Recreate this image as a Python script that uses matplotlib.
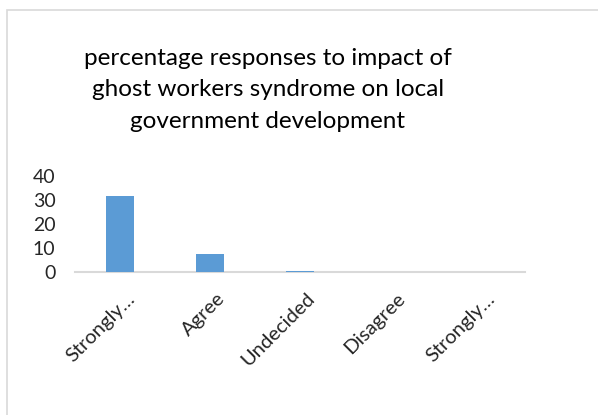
import matplotlib.pyplot as plt
from matplotlib.patches import Rectangle
from matplotlib import transforms

categories = ["Strongly…", "Agree", "Undecided", "Disagree", "Strongly…"]
values = [31.7, 7.5, 0.6, 0, 0]
y_ticks = [0, 10, 20, 30, 40]

title = "percentage responses to impact of\nghost workers syndrome on local\ngovernment development"

plt.rcParams["font.family"] = ["Lato", "DejaVu Sans"]

fig = plt.figure(figsize=(5.98, 4.15), dpi=100)
fig.patches.append(
    Rectangle((7 / 598, -0.01), 1.0, 1 - 10 / 415 + 0.01, transform=fig.transFigure,
              fill=False, edgecolor="#d9d9d9", linewidth=1.2)
)

ax = fig.add_axes([75 / 598, 143 / 415, 450 / 598, 96 / 415])
x = list(range(len(categories)))
ax.bar(x, values, width=0.32, color="#5b9bd5", zorder=3)
ax.set_xlim(-0.5, len(categories) - 0.5)
ax.set_ylim(0, 40)
ax.set_yticks(y_ticks)
ax.set_yticklabels([str(t) for t in y_ticks], fontsize=14)
ax.set_xticks(x)
ax.set_xticklabels([])

# rotated category labels, shifted like the Excel original
offset = transforms.ScaledTranslation(6 / 100, -18 / 100, fig.dpi_scale_trans)
for i, cat in enumerate(categories):
    ax.text(i, 0, cat, transform=ax.get_xaxis_transform() + offset,
            rotation=45, ha="right", va="top", rotation_mode="anchor",
            fontsize=14.5, color="#262626")

ax.tick_params(axis="both", length=0, labelcolor="#262626")
ax.tick_params(axis="y", pad=14)
for s in ["top", "right", "left"]:
    ax.spines[s].set_visible(False)
ax.spines["bottom"].set_color("#d9d9d9")
ax.spines["bottom"].set_linewidth(1.5)
ax.spines["bottom"].set_zorder(1)

fig.text(268 / 598, 1 - 90 / 415, title, ha="center", va="center", fontsize=17.5,
         linespacing=1.6, color="#000000")

fig.savefig("out.png", dpi=100)
